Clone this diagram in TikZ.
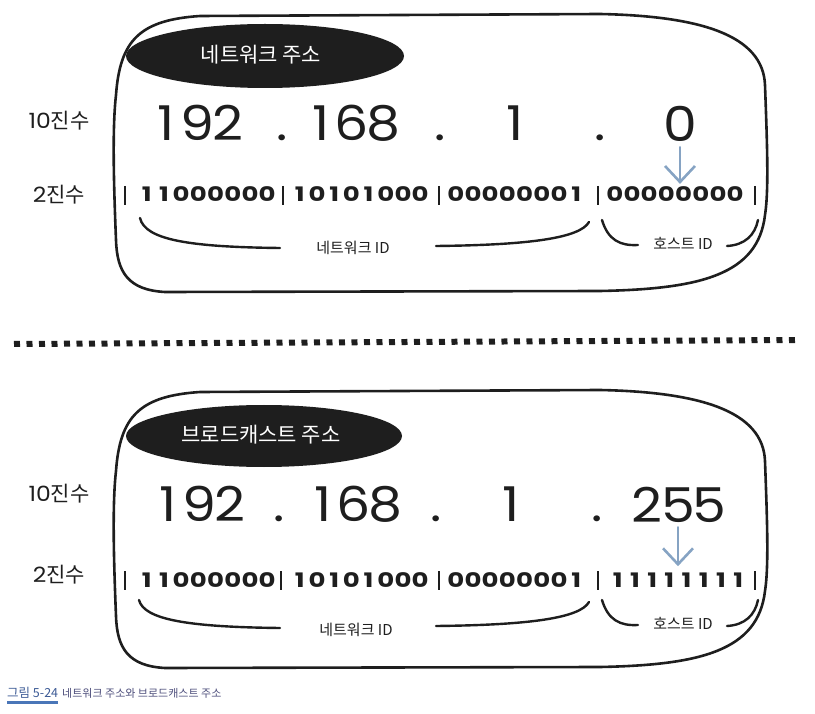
\documentclass[tikz,border=0pt]{standalone}
\usepackage{fontspec}
\newfontfamily\kr{Noto Sans CJK KR}
\newfontfamily\num[FakeStretch=1.12]{Poppins}
\newfontfamily\bin[FakeStretch=1.3]{Poppins}
\usetikzlibrary{arrows.meta}
\makeatletter
\newlength\mdw
\newcommand\md[2]{\setlength\mdw{#1}\@tfor\mdd:=#2\do{\makebox[\mdw][c]{\mdd}}}
\makeatother
\definecolor{ink}{HTML}{1E1E1E}
\definecolor{arrowblue}{HTML}{86A3C3}
\definecolor{capblue}{HTML}{3C5A95}
\definecolor{capline}{HTML}{4A76B8}
\definecolor{captext}{HTML}{4E4F7C}
\tikzset{
  boxline/.style={draw=ink, line width=2.6pt, line cap=round, line join=round},
  brack/.style={draw=ink, line width=2.4pt, line cap=round},
  barline/.style={draw=ink, line width=1.7pt},
  bignum/.style={inner sep=0pt, text=ink, anchor=base, font=\num\fontsize{48}{48}\selectfont},
  binnum/.style={inner sep=0pt, text=ink, anchor=base, font=\bin\bfseries\fontsize{20}{20}\selectfont},
  rowlab/.style={inner sep=0pt, text=ink, font=\fontsize{21}{21}\selectfont},
  idlab/.style={inner sep=0pt, text=ink, font=\kr\fontsize{15}{15}\selectfont},
  pilltext/.style={inner sep=0pt, text=white, font=\kr\fontsize{21}{21}\selectfont},
  pill/.style={fill=ink},
  arrowc/.style={draw=arrowblue, line width=2.6pt, line cap=round, line join=round,
    -{Straight Barb[length=16pt,width=30pt]}},
  dotline/.style={draw=ink, line width=6pt, dash pattern=on 6pt off 6.5pt},
}
\begin{document}
\begin{tikzpicture}[x=1pt,y=-1pt]
\useasboundingbox (0,0) rectangle (815,714);

% ================= TOP PANEL =================
\draw[boxline] (165,292) .. controls (128,290) and (117,272) .. (116,240)
  .. controls (114,190) and (112,130) .. (116,95)
  .. controls (120,40) and (140,20) .. (200,16)
  -- (600,14)
  .. controls (700,16) and (763,35) .. (765,85)
  .. controls (767,140) and (769,190) .. (765,215)
  .. controls (758,275) and (700,289) .. (600,291)
  -- cycle;
\fill[pill] (265,56) ellipse [x radius=139, y radius=32];
\node[pilltext] (t1) at (261,55) {네트워크 주소};

\node[rowlab] (r1) at (59,121) {{\num 10}{\kr 진수}};
\node[rowlab] (r2) at (59,195) {{\num 2}{\kr 진수}};

\node[bignum] (n1) at (197,141) {\md{31pt}{192}};
\node[bignum] (d1) at (282,141) {.};
\node[bignum] (n2) at (352,141) {\md{31pt}{168}};
\node[bignum] (d2) at (440,141) {.};
\node[bignum] (n3) at (515,141) {1};
\node[bignum] (d3) at (600,141) {.};
\node[bignum] (n4) at (680,142) {0};

\node[binnum] (b1) at (207,202) {\md{17.2pt}{11000000}};
\node[binnum] (b2) at (360,202) {\md{17.2pt}{10101000}};
\node[binnum] (b3) at (516,202) {\md{17.2pt}{00000001}};
\node[binnum] (b4) at (675,202) {\md{17.2pt}{00000000}};
\foreach \x in {125,283,439,598,755} \draw[barline] (\x,186) -- (\x,205);

\draw[arrowc, shorten <=5pt] (n4.south) -- ([yshift=3pt]n4.south |- b4.north);

\draw[brack] (140,218) .. controls (145,240) and (190,247) .. (280,248);
\node[idlab] (id1) at (353,248) {네트워크 ID};
\draw[brack] (436,246) .. controls (530,245) and (580,238) .. (589,222);
\draw[brack] (602,220) .. controls (608,240) and (620,246) .. (638,245);
\node[idlab] (h1) at (683,243) {호스트 ID};
\draw[brack] (727,246) .. controls (745,245) and (755,235) .. (758,220);

% ================= DOTTED SEPARATOR =================
\coordinate (s1) at (14,344);
\coordinate (s2) at (798,340);
\draw[dotline] (s1) -- (s2);

% ================= BOTTOM PANEL =================
\begin{scope}[shift={(0,376)}]
\draw[boxline] (165,292) .. controls (128,290) and (117,272) .. (116,240)
  .. controls (114,190) and (112,130) .. (116,95)
  .. controls (120,40) and (140,20) .. (200,16)
  -- (600,14)
  .. controls (700,16) and (763,35) .. (765,85)
  .. controls (767,140) and (769,190) .. (765,215)
  .. controls (758,275) and (700,289) .. (600,291)
  -- cycle;
\end{scope}
\fill[pill] (264,436) ellipse [x radius=138, y radius=31];
\node[pilltext] (t2) at (261,435) {브로드캐스트 주소};

\node[rowlab] (r3) at (59,494) {{\num 10}{\kr 진수}};
\node[rowlab] (r4) at (59,575) {{\num 2}{\kr 진수}};

\node[bignum] (m1) at (199,521) {\md{31pt}{192}};
\node[bignum] (e1) at (279,521) {.};
\node[bignum] (m2) at (354,521) {\md{31pt}{168}};
\node[bignum] (e2) at (436,521) {.};
\node[bignum] (m3) at (511,521) {1};
\node[bignum] (e3) at (597,521) {.};
\node[bignum] (m4) at (678,522) {\md{31pt}{255}};

\node[binnum] (c1) at (207,587) {\md{17.2pt}{11000000}};
\node[binnum] (c2) at (360,587) {\md{17.2pt}{10101000}};
\node[binnum] (c3) at (516,587) {\md{17.2pt}{00000001}};
\node[binnum] (c4) at (678,587) {\md{17.2pt}{11111111}};
\foreach \x in {125,281,439,598,755} \draw[barline] (\x,571) -- (\x,590);

\draw[arrowc, shorten <=5pt] (m4.south) -- ([yshift=6pt]m4.south |- c4.north);

\draw[brack] (139,600) .. controls (144,620) and (190,627) .. (280,628);
\node[idlab] (id2) at (356,630) {네트워크 ID};
\draw[brack] (436,626) .. controls (530,625) and (580,618) .. (589,602);
\draw[brack] (602,600) .. controls (608,620) and (620,626) .. (638,625);
\node[idlab] (h2) at (683,623) {호스트 ID};
\draw[brack] (727,626) .. controls (745,625) and (755,615) .. (758,600);

% ================= CAPTION =================
\node[anchor=west, inner sep=0pt, text=capblue, font=\kr\fontsize{12.5}{12.5}\selectfont] (cap1) at (7,693) {그림 5-24};
\draw[draw=capline, line width=2.6pt] (cap1.south west) ++(0,-4pt) coordinate (u1) -- (u1 -| cap1.south east);
\node[anchor=west, inner sep=0pt, text=captext, font=\kr\fontsize{11}{11}\selectfont] (cap2) at (62,693) {네트워크 주소와 브로드캐스트 주소};
\end{tikzpicture}
\end{document}
